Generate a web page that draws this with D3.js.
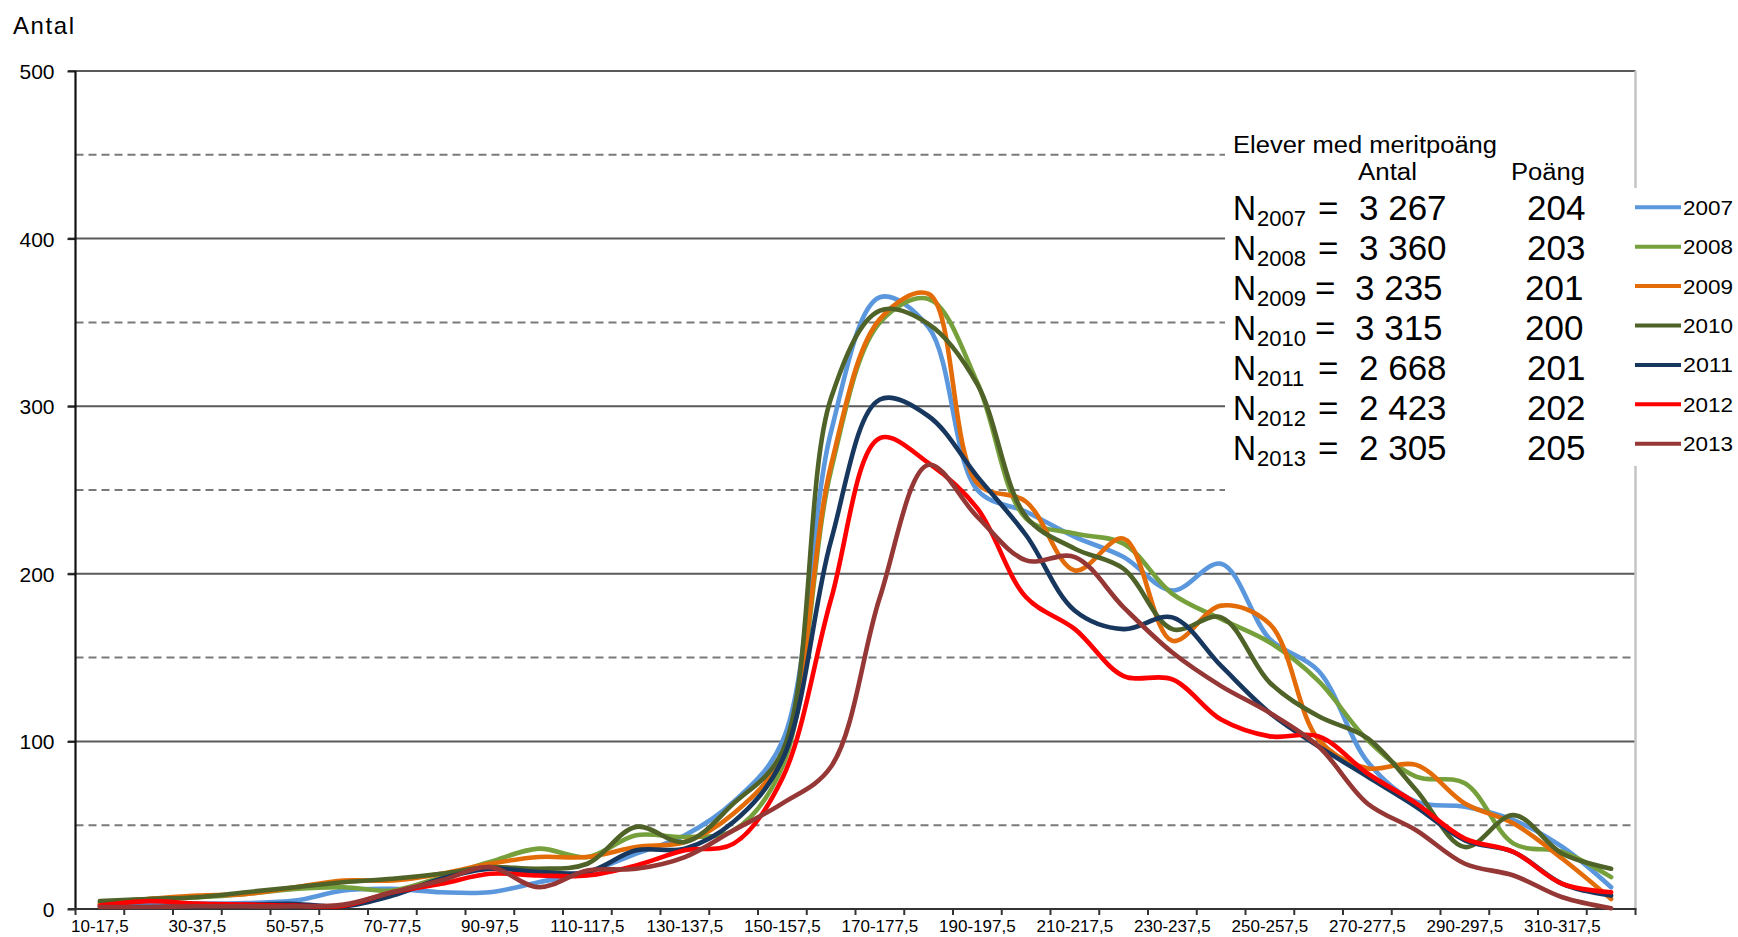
<!DOCTYPE html>
<html>
<head>
<meta charset="utf-8">
<script src="https://cdn.jsdelivr.net/npm/d3@7/dist/d3.min.js"></script>
<style>
  html, body { margin: 0; padding: 0; background: #fff; }
  svg { display: block; }
  text { font-family: "Liberation Sans", Arial, sans-serif; fill: #000; }
</style>
</head>
<body>
<svg id="chart" width="1738" height="937"></svg>
<script>
// ---------- data ----------
const categories = ["10-17,5","20-27,5","30-37,5","40-47,5","50-57,5","60-67,5","70-77,5","80-87,5",
  "90-97,5","100-107,5","110-117,5","120-127,5","130-137,5","140-147,5","150-157,5","160-167,5",
  "170-177,5","180-187,5","190-197,5","200-207,5","210-217,5","220-227,5","230-237,5","240-247,5",
  "250-257,5","260-267,5","270-277,5","280-287,5","290-297,5","300-307,5","310-317,5","320-327,5"];
const years = ["2007","2008","2009","2010","2011","2012","2013"];
const v2007 = [2.6,3.6,3.2,3.5,5,11,12,10,10,16,22,33,44,64,100,285,365,347,250,237,222,210,190,206,161,142,88,64,61,53,37,13];
const v2008 = [4,6,7,9,12,13,11,19,28,36,31,44,43,47,85,262,350,364,314,233,224,218,188,173,159,136,101,79,75,39,34,19];
const v2009 = [3,6,8,9,13,17,17,21,27,31,31,37,40,57,92,265,352,367,254,243,202,221,160,181,170,101,84,86,63,51,30,6];
const v2010 = [4.7,6,7,10,13,16,18,21,25,24,27,49,40,63,94,305,357,349,313,234,215,203,167,174,135,115,102,71,37,56,33,24];
const v2011 = [1.6,1.2,1.6,2.6,3,1.6,8,18,24,22,22,35,36,52,89,220,304,294,258,223,178,167,174,145,117,97,79,61,41,34,15,8];
const v2012 = [2,4.7,3.2,2.6,2,2,10,15,21,20,20,26,35,39,78,185,281,266,239,186,167,139,137,113,103,103,81,63,42,34,15,10];
const v2013 = [1.2,1.2,1.6,1.6,1.6,2.6,10,17,25,13,23,24,31,47,63,85,186,265,234,208,210,180,153,133,117,97,63,47,27,20,7,0.5];
const seriesValues = [v2007, v2008, v2009, v2010, v2011, v2012, v2013];
const colors = ["#5A97DC","#76A03C","#E36C09","#4F6228","#17375E","#FF0000","#953735"];
const majorTicks = [0,100,200,300,400,500];
const minorTicks = [50,150,250,350,450];
const antalN = ["3 267","3 360","3 235","3 315","2 668","2 423","2 305"];
const poang = ["204","203","201","200","201","202","205"];
const boxTitle = "Elever med meritpoäng";
const colHeadAntal = "Antal";
const colHeadPoang = "Poäng";
const yTitle = "Antal";

// ---------- layout ----------
const svg = d3.select("#chart");
const pL = 75.5, pR = 1635.5, pT = 71, pB = 909;
const x = d3.scaleBand().domain(categories).range([pL, pR]).padding(0);
const y = d3.scaleLinear().domain([0, 500]).range([pB, pT]);
const cx = c => x(c) + x.bandwidth() / 2;

// dashed gridlines
svg.append("g").selectAll("line").data(minorTicks).join("line")
  .attr("x1", pL).attr("x2", pR)
  .attr("y1", d => y(d)).attr("y2", d => y(d))
  .attr("stroke", "#7a7a7a").attr("stroke-width", 2).attr("stroke-dasharray", "8,5");

// solid gridlines
svg.append("g").selectAll("line").data(majorTicks.filter(d => d > 0)).join("line")
  .attr("x1", 68).attr("x2", pR)
  .attr("y1", d => y(d)).attr("y2", d => y(d))
  .attr("stroke", "#5a5a5a").attr("stroke-width", 2);

// right border
svg.append("line").attr("x1", pR).attr("x2", pR).attr("y1", pT).attr("y2", pB)
  .attr("stroke", "#c4c4c4").attr("stroke-width", 2.5);

// y axis
const yAxis = d3.axisLeft(y).tickValues(majorTicks).tickSize(8).tickPadding(13).tickFormat(d3.format("d"));
const gy = svg.append("g").attr("transform", `translate(${pL},0)`).call(yAxis);
gy.select(".domain").remove();
gy.selectAll(".tick line").attr("stroke", "#222").attr("stroke-width", 2);
gy.selectAll(".tick text").attr("font-size", 21).attr("font-family", "Liberation Sans, Arial, sans-serif")
  .attr("fill", "#000").attr("dy", "0.36em");
svg.append("line").attr("x1", pL).attr("x2", pL).attr("y1", pT).attr("y2", pB + 1)
  .attr("stroke", "#111").attr("stroke-width", 2.2);

// x axis
svg.append("line").attr("x1", 68).attr("x2", pR + 1).attr("y1", pB).attr("y2", pB)
  .attr("stroke", "#333").attr("stroke-width", 2.2);
const boundaries = categories.map(c => x(c)).concat([pR]);
svg.append("g").selectAll("line").data(boundaries).join("line")
  .attr("x1", d => d).attr("x2", d => d).attr("y1", pB).attr("y2", pB + 6)
  .attr("stroke", "#333").attr("stroke-width", 2);
const xAxis = d3.axisBottom(x).tickSize(0).tickPadding(0)
  .tickFormat((d, i) => i % 2 === 0 ? d : "");
const gx = svg.append("g").attr("transform", `translate(0,${pB})`).call(xAxis);
gx.select(".domain").remove();
gx.selectAll(".tick text").attr("font-size", 17).attr("font-family", "Liberation Sans, Arial, sans-serif")
  .attr("fill", "#000").attr("y", 23).attr("dy", 0);

// y title
svg.append("text").attr("x", 13).attr("y", 34.3).attr("font-size", 24)
  .attr("textLength", 61).attr("lengthAdjust", "spacing").text(yTitle);

// annotation box
svg.append("rect").attr("x", 1225).attr("y", 128).attr("width", 406).attr("height", 372).attr("fill", "#fff");
svg.append("text").attr("x", 1233).attr("y", 153).attr("font-size", 23)
  .attr("textLength", 264).attr("lengthAdjust", "spacingAndGlyphs").text(boxTitle);
svg.append("text").attr("x", 1358).attr("y", 180).attr("font-size", 23)
  .attr("textLength", 59).attr("lengthAdjust", "spacingAndGlyphs").text(colHeadAntal);
svg.append("text").attr("x", 1511).attr("y", 180).attr("font-size", 23)
  .attr("textLength", 74).attr("lengthAdjust", "spacingAndGlyphs").text(colHeadPoang);

const rows = svg.append("g").selectAll("g").data(years).join("g")
  .attr("transform", (d, i) => `translate(0,${220 + i * 40})`);
rows.append("text").attr("x", 1233).attr("y", 0).attr("font-size", 35)
  .attr("textLength", 23).attr("lengthAdjust", "spacingAndGlyphs").text("N");
rows.append("text").attr("x", 1257).attr("y", 6).attr("font-size", 22).text(d => d);
rows.append("text").attr("x", (d, i) => (i === 2 || i === 3) ? 1315 : 1318).attr("y", 0).attr("font-size", 35).text("=");
rows.append("text").attr("x", (d, i) => (i === 2 || i === 3) ? 1355 : 1359).attr("y", 0).attr("font-size", 35).text((d, i) => antalN[i]);
rows.append("text").attr("x", (d, i) => (i === 2 || i === 3) ? 1525 : 1527).attr("y", 0).attr("font-size", 35).text((d, i) => poang[i]);

// legend
svg.append("rect").attr("x", 1630).attr("y", 188).attr("width", 108).attr("height", 278).attr("fill", "#fff");
const leg = svg.append("g").selectAll("g").data(years).join("g")
  .attr("transform", (d, i) => `translate(0,${207.3 + i * 39.4})`);
leg.append("line").attr("x1", 1635).attr("x2", 1681).attr("y1", 0).attr("y2", 0)
  .attr("stroke", (d, i) => colors[i]).attr("stroke-width", 4);
leg.append("text").attr("x", 1683).attr("y", 7.5).attr("font-size", 21)
  .attr("textLength", 50).attr("lengthAdjust", "spacingAndGlyphs").text(d => d);

// series
const line = d3.line()
  .x((d, i) => cx(categories[i]))
  .y(d => y(d))
  .curve(d3.curveCatmullRom.alpha(0.5));
svg.append("g").selectAll("path").data(seriesValues).join("path")
  .attr("d", d => line(d))
  .attr("fill", "none")
  .attr("stroke", (d, i) => colors[i])
  .attr("stroke-width", 4.6)
  .attr("stroke-linejoin", "round").attr("stroke-linecap", "round");
</script>
</body>
</html>
